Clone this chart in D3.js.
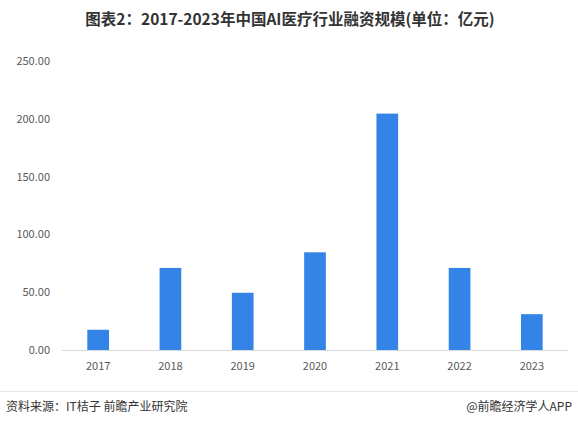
<!DOCTYPE html>
<html>
<head>
<meta charset="utf-8">
<script src="https://cdn.jsdelivr.net/npm/d3@7"></script>
<style>
body { margin: 0; background: #fff; }
svg { font-family: "Noto Sans CJK SC", "Microsoft YaHei", sans-serif; }
</style>
</head>
<body>
<svg id="canvas" width="578" height="425"></svg>
<script>
var years = ["2017", "2018", "2019", "2020", "2021", "2022", "2023"];
var amounts = [17.5, 71, 49.5, 84.5, 204.5, 71, 31];
var yTicks = [0, 50, 100, 150, 200, 250];

var svg = d3.select("#canvas");
var margin = { left: 62, right: 10, top: 61, bottom: 75 };
var W = 578, H = 425;

var x = d3.scaleBand().domain(years).range([margin.left, W - margin.right]).paddingInner(0.7).paddingOuter(0.35);
var y = d3.scaleLinear().domain([0, 250]).range([350, 61]);

svg.append("text")
    .attr("x", W / 2 + 1).attr("y", 25)
    .attr("text-anchor", "middle")
    .attr("font-size", "15.5px").attr("font-weight", "bold").attr("fill", "#333")
    .text("图表2：2017-2023年中国AI医疗行业融资规模(单位：亿元)");

// Y axis labels
svg.selectAll(".ytick").data(yTicks).enter().append("text")
    .attr("x", 50).attr("y", function(d) { return y(d) + 4; })
    .attr("text-anchor", "end")
    .attr("font-size", "11px").attr("fill", "#595959")
    .text(function(d) { return d.toFixed(2); });

svg.selectAll("rect.bar").data(amounts).enter().append("rect")
    .attr("class", "bar")
    .attr("x", function(d, i) { return x(years[i]); })
    .attr("width", x.bandwidth())
    .attr("y", function(d) { return y(d); })
    .attr("height", function(d) { return y(0) - y(d); })
    .attr("fill", "#3384e6");

svg.append("line")
    .attr("x1", margin.left).attr("x2", W - margin.right)
    .attr("y1", y(0) + 0.5).attr("y2", y(0) + 0.5)
    .attr("stroke", "#d9d9d9");

svg.selectAll(".xtick").data(years).enter().append("text")
    .attr("x", function(d) { return x(d) + x.bandwidth() / 2; })
    .attr("y", 370)
    .attr("text-anchor", "middle")
    .attr("font-size", "11px").attr("fill", "#595959")
    .text(function(d) { return d; });

// Footer
svg.append("line")
    .attr("x1", 0).attr("x2", W).attr("y1", 391.5).attr("y2", 391.5)
    .attr("stroke", "#e6e6e6");
svg.append("text")
    .attr("x", 6).attr("y", 411)
    .attr("font-size", "12px").attr("fill", "#333")
    .text("资料来源：IT桔子 前瞻产业研究院");
svg.append("text")
    .attr("x", 572).attr("y", 411)
    .attr("text-anchor", "end")
    .attr("font-size", "12px").attr("fill", "#333")
    .text("@前瞻经济学人APP");
</script>
</body>
</html>
